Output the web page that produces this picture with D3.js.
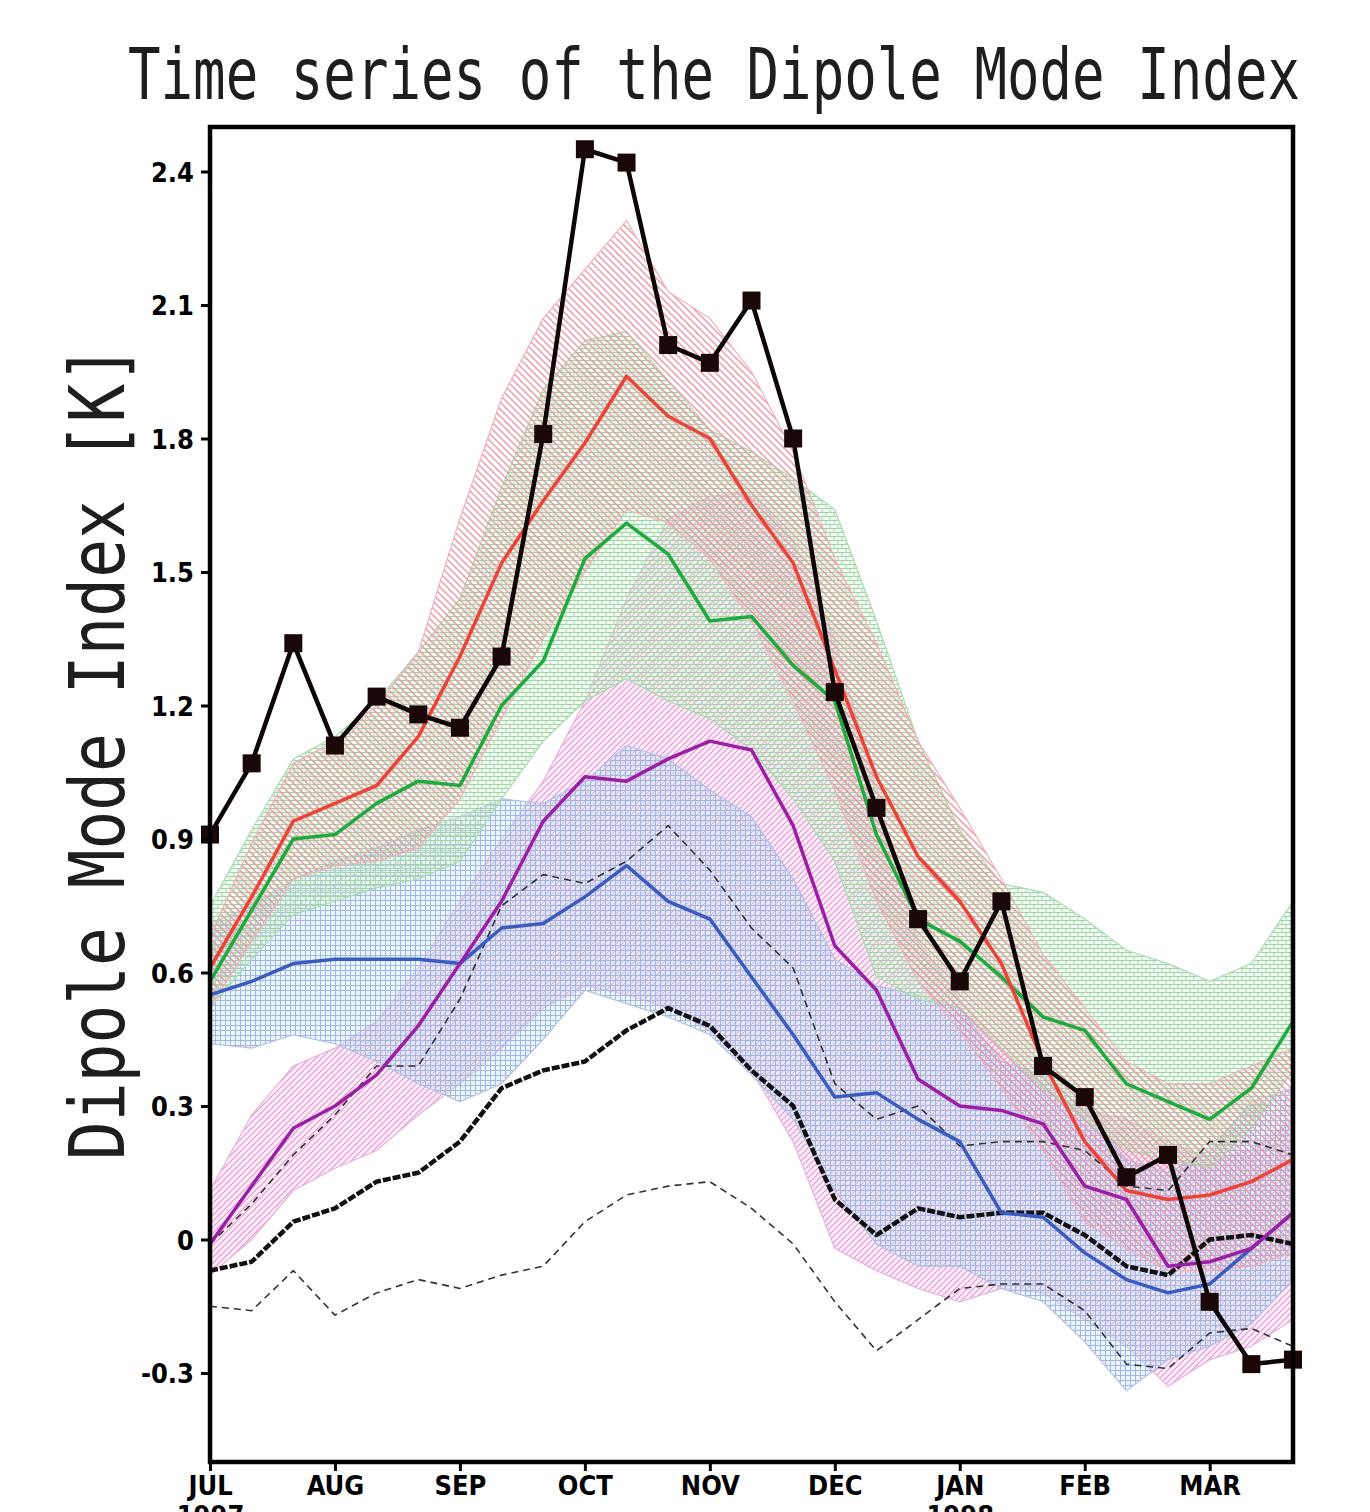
<!DOCTYPE html>
<html lang="en">
<head>
<meta charset="UTF-8">
<title>Time series of the Dipole Mode Index</title>
<style>
  body { margin: 0; overflow: hidden; background: #fff; }
  svg { display: block; }
  .tick text { font-family: "Liberation Sans Narrow", "DejaVu Sans Condensed", "Arial Narrow", sans-serif; font-weight: bold; font-size: 27px; fill: #000; }
  .tick line { stroke: #000; stroke-width: 3px; }
  .mono { font-family: "DejaVu Sans Mono", "Liberation Mono", monospace; fill: #1e1e1e; }
</style>
</head>
<body>
<svg id="chart" width="1370" height="1512"></svg>
<script src="https://d3js.org/d3.v7.min.js"></script>
<script>
// 27 points, three per month, Jul 1997 .. Mar 1998
const steps = d3.range(27);
const monthTicks = [0, 3, 6, 9, 12, 15, 18, 21, 24];
const monthLabels = ["JUL", "AUG", "SEP", "OCT", "NOV", "DEC", "JAN", "FEB", "MAR"];
const yearLabels = {0: "1997", 18: "1998"};
const yTicks = [-0.3, 0, 0.3, 0.6, 0.9, 1.2, 1.5, 1.8, 2.1, 2.4];
const yTickLabels = ["-0.3", "0", "0.3", "0.6", "0.9", "1.2", "1.5", "1.8", "2.1", "2.4"];

// observed index
const observed = [0.91, 1.07, 1.34, 1.11, 1.22, 1.18, 1.15, 1.31, 1.81, 2.45, 2.42, 2.01, 1.97, 2.11, 1.80, 1.23, 0.97, 0.72, 0.58, 0.76, 0.39, 0.32, 0.14, 0.19, -0.14, -0.28, -0.27];

// ensemble means
const redMean = [0.61, 0.77, 0.94, 0.98, 1.02, 1.13, 1.31, 1.52, 1.66, 1.79, 1.94, 1.85, 1.80, 1.65, 1.52, 1.28, 1.04, 0.86, 0.76, 0.62, 0.40, 0.22, 0.11, 0.09, 0.10, 0.13, 0.18];
const greenMean = [0.58, 0.74, 0.90, 0.91, 0.98, 1.03, 1.02, 1.20, 1.30, 1.53, 1.61, 1.54, 1.39, 1.40, 1.29, 1.21, 0.91, 0.72, 0.67, 0.59, 0.50, 0.47, 0.35, 0.31, 0.27, 0.34, 0.49];
const blueMean = [0.55, 0.58, 0.62, 0.63, 0.63, 0.63, 0.62, 0.70, 0.71, 0.77, 0.84, 0.76, 0.72, 0.59, 0.46, 0.32, 0.33, 0.27, 0.22, 0.06, 0.05, -0.03, -0.09, -0.12, -0.10, -0.02, 0.06];
const purpleMean = [-0.01, 0.12, 0.25, 0.30, 0.37, 0.48, 0.62, 0.76, 0.94, 1.04, 1.03, 1.08, 1.12, 1.10, 0.93, 0.66, 0.56, 0.36, 0.30, 0.29, 0.26, 0.12, 0.09, -0.06, -0.05, -0.02, 0.06];
const blackMean = [-0.07, -0.05, 0.04, 0.07, 0.13, 0.15, 0.22, 0.34, 0.38, 0.40, 0.47, 0.52, 0.48, 0.38, 0.30, 0.09, 0.01, 0.07, 0.05, 0.06, 0.06, 0.01, -0.06, -0.08, 0.00, 0.01, -0.01];
const blackUpper = [-0.01, 0.08, 0.19, 0.28, 0.39, 0.39, 0.54, 0.75, 0.82, 0.80, 0.85, 0.93, 0.83, 0.70, 0.61, 0.35, 0.27, 0.30, 0.21, 0.22, 0.22, 0.20, 0.12, 0.11, 0.22, 0.22, 0.19];
const blackLower = [-0.15, -0.16, -0.07, -0.17, -0.12, -0.09, -0.11, -0.08, -0.06, 0.04, 0.10, 0.12, 0.13, 0.07, -0.01, -0.14, -0.25, -0.18, -0.11, -0.10, -0.10, -0.16, -0.28, -0.29, -0.21, -0.20, -0.24];

// ensemble spreads (upper / lower)
const redUpper = [0.68, 0.89, 1.07, 1.12, 1.20, 1.32, 1.62, 1.89, 2.07, 2.18, 2.29, 2.13, 2.07, 1.95, 1.77, 1.53, 1.34, 1.12, 0.97, 0.81, 0.64, 0.52, 0.40, 0.35, 0.35, 0.39, 0.43];
const redLower = [0.52, 0.67, 0.81, 0.84, 0.85, 0.88, 0.99, 1.17, 1.35, 1.50, 1.64, 1.61, 1.53, 1.39, 1.21, 1.01, 0.76, 0.58, 0.47, 0.34, 0.20, 0.04, -0.02, -0.07, -0.07, -0.06, -0.03];
const greenUpper = [0.75, 0.92, 1.08, 1.13, 1.21, 1.32, 1.44, 1.69, 1.91, 2.02, 2.04, 1.93, 1.82, 1.77, 1.71, 1.64, 1.39, 1.12, 0.92, 0.80, 0.78, 0.72, 0.65, 0.62, 0.58, 0.62, 0.76];
const greenLower = [0.52, 0.63, 0.73, 0.76, 0.79, 0.81, 0.85, 0.99, 1.12, 1.21, 1.26, 1.21, 1.17, 1.10, 0.99, 0.85, 0.59, 0.54, 0.52, 0.43, 0.34, 0.27, 0.20, 0.18, 0.16, 0.25, 0.38];
const blueUpper = [0.71, 0.75, 0.81, 0.85, 0.88, 0.92, 0.95, 0.99, 0.98, 1.03, 1.11, 1.08, 1.01, 0.95, 0.81, 0.63, 0.57, 0.55, 0.52, 0.40, 0.37, 0.29, 0.18, 0.15, 0.20, 0.31, 0.34];
const blueLower = [0.44, 0.43, 0.46, 0.44, 0.40, 0.35, 0.31, 0.35, 0.45, 0.56, 0.53, 0.50, 0.46, 0.37, 0.27, 0.11, -0.01, -0.06, -0.06, -0.11, -0.14, -0.23, -0.34, -0.27, -0.24, -0.19, -0.09];
const purpleUpper = [0.11, 0.28, 0.39, 0.43, 0.49, 0.61, 0.76, 0.90, 1.03, 1.21, 1.44, 1.62, 1.67, 1.68, 1.57, 1.35, 1.01, 0.67, 0.54, 0.43, 0.34, 0.29, 0.27, 0.22, 0.18, 0.20, 0.27];
const purpleLower = [-0.08, 0.00, 0.11, 0.16, 0.20, 0.28, 0.35, 0.43, 0.52, 0.57, 0.55, 0.52, 0.47, 0.38, 0.22, -0.02, -0.07, -0.11, -0.14, -0.11, -0.12, -0.18, -0.24, -0.33, -0.27, -0.24, -0.18];

const svg = d3.select("#chart");
const plotLeft = 210, plotRight = 1293, plotTop = 127, plotBottom = 1462;

const x = d3.scaleLinear().domain([0, 26]).range([plotLeft, plotRight]);
const y = d3.scaleLinear().domain([-0.5, 2.5]).range([plotBottom, plotTop]);

const defs = svg.append("defs");
defs.append("clipPath").attr("id", "plot")
    .append("rect").attr("x", plotLeft).attr("y", plotTop)
    .attr("width", plotRight - plotLeft).attr("height", plotBottom - plotTop);

// hatch patterns for the spread bands
function hatch(id, size, d, color, width, bg) {
    const p = defs.append("pattern").attr("id", id)
        .attr("patternUnits", "userSpaceOnUse")
        .attr("width", size).attr("height", size);
    if (bg) p.append("rect").attr("width", size).attr("height", size).attr("fill", bg);
    p.append("path").attr("d", d).attr("stroke", color)
        .attr("stroke-width", width).attr("fill", "none");
}
hatch("redHatch", 7, "M-1,-1L8,8M-1,6L1,8M6,-1L8,1", "#ee98a6", 1.4, null);
hatch("purpleHatch", 6, "M-1,7L7,-1M-1,1L1,-1M5,7L7,5", "#ee96d2", 1.2, "rgba(240,205,238,0.35)");
hatch("blueHatch", 5, "M0,0.5H5M0.5,0V5", "#a6b6e4", 1, "rgba(200,232,245,0.4)");
hatch("greenHatch", 8, "M0,0.5H8M0,4.5H8M2,0.5V4.5M6,4.5V8", "#9fd6a4", 1, "rgba(225,245,225,0.35)");

const plot = svg.append("g").attr("clip-path", "url(#plot)");

const bands = [
    {up: purpleUpper, lo: purpleLower, fill: "url(#purpleHatch)", edge: "#e8b0dc"},
    {up: blueUpper, lo: blueLower, fill: "url(#blueHatch)", edge: "#b4c0e8"},
    {up: greenUpper, lo: greenLower, fill: "url(#greenHatch)", edge: "#a8dcb0"},
    {up: redUpper, lo: redLower, fill: "url(#redHatch)", edge: "#f0b0bc"}
];
const area = d3.area().x(i => x(i));
bands.forEach(b => {
    plot.append("path")
        .attr("d", area.y0(i => y(b.lo[i])).y1(i => y(b.up[i]))(steps))
        .attr("fill", b.fill)
        .attr("stroke", b.edge)
        .attr("stroke-width", 1.2);
});

const line = vals => d3.line().x(i => x(i)).y(i => y(vals[i]))(steps);

const series = [
    {v: blackUpper, color: "#333", w: 1.6, dash: "7,5"},
    {v: blackLower, color: "#333", w: 1.6, dash: "7,5"},
    {v: blackMean, color: "#111", w: 4.5, dash: "8,2"},
    {v: blueMean, color: "#3a5cc0", w: 3.5},
    {v: purpleMean, color: "#9b1fa6", w: 3.5},
    {v: greenMean, color: "#1faa3d", w: 3.5},
    {v: redMean, color: "#ec4339", w: 3.5}
];
series.forEach(s => {
    plot.append("path").attr("d", line(s.v))
        .attr("fill", "none").attr("stroke", s.color)
        .attr("stroke-width", s.w)
        .attr("stroke-dasharray", s.dash || null)
        .attr("stroke-linejoin", "round");
});

// observed with square markers
svg.append("path").attr("d", line(observed))
    .attr("fill", "none").attr("stroke", "#0d0606")
    .attr("stroke-width", 4.5).attr("stroke-linejoin", "round");
svg.selectAll(".obs").data(steps).join("rect")
    .attr("class", "obs")
    .attr("x", i => x(i) - 9).attr("y", i => y(observed[i]) - 9)
    .attr("width", 18).attr("height", 18)
    .attr("fill", "#1a0808");

// frame
svg.append("rect").attr("x", plotLeft).attr("y", plotTop)
    .attr("width", plotRight - plotLeft).attr("height", plotBottom - plotTop)
    .attr("fill", "none").attr("stroke", "#000").attr("stroke-width", 4.5);

// axes
const yAxis = svg.append("g").attr("transform", `translate(${plotLeft},0)`)
    .call(d3.axisLeft(y).tickValues(yTicks).tickSize(9).tickPadding(7)
        .tickFormat((d, i) => yTickLabels[i]));
yAxis.select(".domain").remove();
yAxis.selectAll(".tick text").attr("dy", "0.36em");

const xAxis = svg.append("g").attr("transform", `translate(0,${plotBottom})`)
    .call(d3.axisBottom(x).tickValues(monthTicks).tickSize(9).tickPadding(5)
        .tickFormat((d, i) => monthLabels[i]));
xAxis.select(".domain").remove();
// year under the month, mostly below the page edge as in the original
xAxis.selectAll(".tick").filter(d => yearLabels[d])
    .append("text").attr("y", 14).attr("dy", "1.8em")
    .attr("fill", "#000")
    .text(d => yearLabels[d]);

// title and y label
svg.append("text").attr("class", "mono")
    .attr("x", 128).attr("y", 99)
    .attr("font-size", 71)
    .attr("textLength", 1172).attr("lengthAdjust", "spacingAndGlyphs")
    .text("Time series of the Dipole Mode Index");

svg.append("text").attr("class", "mono")
    .attr("transform", "translate(124,1160) rotate(-90)")
    .attr("font-size", 76)
    .attr("textLength", 815).attr("lengthAdjust", "spacingAndGlyphs")
    .text("Dipole Mode Index [K]");
</script>
</body>
</html>
